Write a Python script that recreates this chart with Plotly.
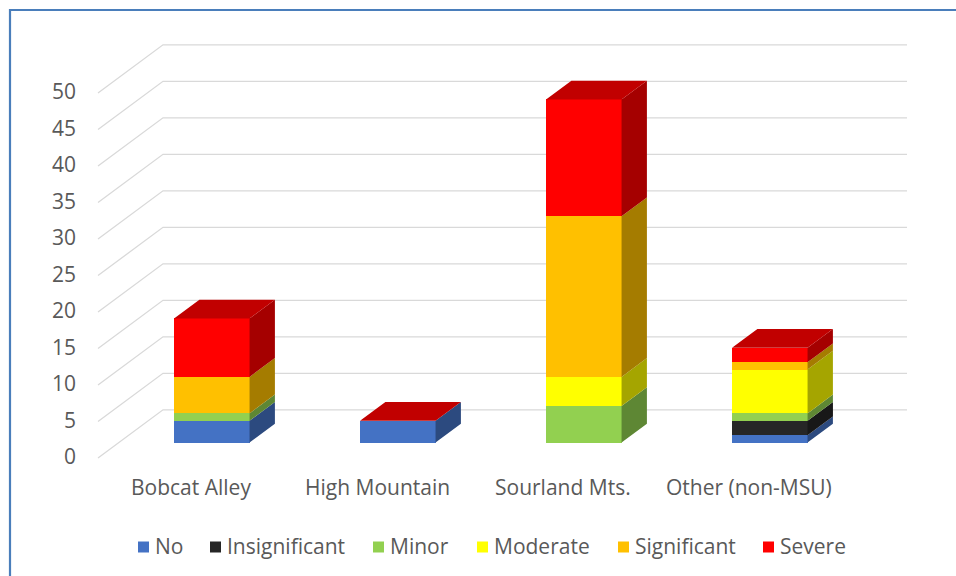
import plotly.graph_objects as go

# Survey results: number of responses per damage rating at each site
categories = ["Bobcat Alley", "High Mountain", "Sourland Mts.", "Other (non-MSU)"]
series_names = ["No", "Insignificant", "Minor", "Moderate", "Significant", "Severe"]
no_vals = [3, 3, 0, 1]
insignificant_vals = [0, 0, 0, 2]
minor_vals = [1, 0, 5, 1]
moderate_vals = [0, 0, 4, 6]
significant_vals = [5, 0, 22, 1]
severe_vals = [8, 0, 16, 2]
y_ticks = [0, 5, 10, 15, 20, 25, 30, 35, 40, 45, 50]

series_values = [no_vals, insignificant_vals, minor_vals,
                 moderate_vals, significant_vals, severe_vals]
front_colors = ["#4472C4", "#262626", "#92D050", "#FFFF00", "#FFC000", "#FF0000"]


def shade(hex_color, k):
    r, g, b = (int(hex_color[i:i + 2], 16) for i in (1, 3, 5))
    return "#%02X%02X%02X" % (int(r * k), int(g * k), int(b * k))


side_colors = [shade(c, 0.65) for c in front_colors]
top_colors = [shade(c, 0.76) for c in front_colors]

# canvas / projection set-up (oblique 3-D look)
W_PX, H_PX = 956, 576
PX_PER_CAT = 186.0
PX_PER_UNIT = 7.3
X0_PX = 98.0           # left edge of the front plane
Y0_PX = 458.0          # value 0 on the front plane
DX = 65.0 / PX_PER_CAT  # full depth, x units
DY = 6.6                # full depth, value units
Z_FRONT, Z_BACK = 0.32, 0.71
BAR_W = 0.406
n_cat = len(categories)

x_range = [(0 - X0_PX) / PX_PER_CAT - 0.5, (W_PX - X0_PX) / PX_PER_CAT - 0.5]
y_range = [(Y0_PX - H_PX) / PX_PER_UNIT, Y0_PX / PX_PER_UNIT]

FONT = "Open Sans"
FONT_SIZE = 21
TEXT_COLOR = "#595959"

fig = go.Figure()

# gridlines: left side wall diagonals + back wall horizontals
shapes = []
for v in y_ticks:
    path = "M %f,%f L %f,%f L %f,%f" % (
        -0.5, v, -0.5 + DX, v + DY, n_cat - 0.5 + DX, v + DY)
    shapes.append(dict(type="path", path=path, xref="x", yref="y",
                       line=dict(color="#D9D9D9", width=1.3), layer="below"))

ddx = (Z_BACK - Z_FRONT) * DX
ddy = (Z_BACK - Z_FRONT) * DY
base_off = Z_FRONT * DY

cum = [0.0] * n_cat
for name, vals, fc, sc in zip(series_names, series_values, front_colors, side_colors):
    xc = [i + Z_FRONT * DX for i in range(n_cat)]
    bases = [cum[i] + base_off for i in range(n_cat)]
    # front faces
    fig.add_trace(go.Bar(
        x=xc, y=vals, base=bases, width=BAR_W, name=name,
        marker=dict(color=fc, line=dict(width=0)), showlegend=False,
        hoverinfo="skip"))
    # right side faces
    sx, sy = [], []
    for i in range(n_cat):
        if vals[i] <= 0:
            continue
        r = xc[i] + BAR_W / 2
        b = bases[i]
        t = b + vals[i]
        sx += [r, r + ddx, r + ddx, r, r, None]
        sy += [b, b + ddy, t + ddy, t, b, None]
    if sx:
        fig.add_trace(go.Scatter(
            x=sx, y=sy, mode="lines", fill="toself", fillcolor=sc,
            line=dict(width=0, color=sc), showlegend=False, hoverinfo="skip"))
    cum = [cum[i] + vals[i] for i in range(n_cat)]

# top faces take the colour of the last series in the stack
tx, ty = [], []
for i in range(n_cat):
    xc = i + Z_FRONT * DX
    l, r = xc - BAR_W / 2, xc + BAR_W / 2
    t = cum[i] + base_off
    tx += [l, r, r + ddx, l + ddx, l, None]
    ty += [t, t, t + ddy, t + ddy, t, None]
fig.add_trace(go.Scatter(
    x=tx, y=ty, mode="lines", fill="toself", fillcolor=top_colors[-1],
    line=dict(width=0, color=top_colors[-1]), showlegend=False, hoverinfo="skip"))

annotations = []
# value axis labels on the front plane
for v in y_ticks:
    annotations.append(dict(
        x=-0.5, y=v, xref="x", yref="y", text=str(v), showarrow=False,
        xanchor="right", yanchor="middle", xshift=-20, yshift=2,
        font=dict(family=FONT, size=FONT_SIZE, color=TEXT_COLOR)))
# category labels
for i, c in enumerate(categories):
    annotations.append(dict(
        x=i, y=(Y0_PX - 487) / PX_PER_UNIT, xref="x", yref="y", text=c,
        showarrow=False, xanchor="center", yanchor="middle",
        font=dict(family=FONT, size=FONT_SIZE, color=TEXT_COLOR)))

# legend row
legend_x_px = [138, 210, 373, 477, 618, 763]
legend_y_px = 547
SQ = 11
for name, fc, lx in zip(series_names, front_colors, legend_x_px):
    shapes.append(dict(
        type="rect", xref="paper", yref="paper",
        x0=lx / W_PX, x1=(lx + SQ) / W_PX,
        y0=1 - (legend_y_px + SQ / 2) / H_PX, y1=1 - (legend_y_px - SQ / 2) / H_PX,
        fillcolor=fc, line=dict(width=0), layer="above"))
    annotations.append(dict(
        x=(lx + SQ + 4) / W_PX, y=1 - (legend_y_px - 1) / H_PX,
        xref="paper", yref="paper",
        text=name, showarrow=False, xanchor="left", yanchor="middle",
        font=dict(family=FONT, size=FONT_SIZE, color=TEXT_COLOR)))

# chart-area border (left and top edges)
BORDER = "#4A7EBB"
shapes.append(dict(type="line", xref="paper", yref="paper",
                   x0=10 / W_PX, x1=10 / W_PX, y0=0, y1=1 - 9 / H_PX,
                   line=dict(color=BORDER, width=2.2), layer="above"))
shapes.append(dict(type="line", xref="paper", yref="paper",
                   x0=9 / W_PX, x1=1, y0=1 - 10 / H_PX, y1=1 - 10 / H_PX,
                   line=dict(color=BORDER, width=2.2), layer="above"))

fig.update_layout(
    width=W_PX, height=H_PX,
    margin=dict(l=0, r=0, t=0, b=0),
    paper_bgcolor="white", plot_bgcolor="white",
    barmode="overlay", bargap=0,
    xaxis=dict(range=x_range, visible=False, fixedrange=True),
    yaxis=dict(range=y_range, visible=False, fixedrange=True),
    shapes=shapes, annotations=annotations,
    showlegend=False,
)

fig.write_html("out.html")
